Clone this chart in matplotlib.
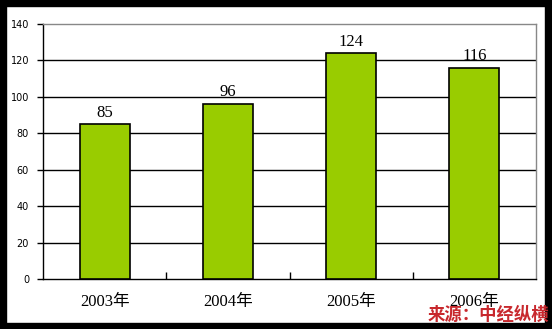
import matplotlib
matplotlib.use("Agg")
import matplotlib.pyplot as plt
from matplotlib.patches import Rectangle

categories = ["2003年", "2004年", "2005年", "2006年"]
values = [85, 96, 124, 116]
yticks = [0, 20, 40, 60, 80, 100, 120, 140]

W, H = 552, 329
fig = plt.figure(figsize=(W / 100, H / 100), dpi=100)
fig.patch.set_facecolor("white")

ax = fig.add_axes([43 / W, 1 - 279 / H, (536 - 43) / W, (279 - 24) / H])
x = list(range(len(categories)))
ax.bar(x, values, width=0.405, color="#99cc00", edgecolor="black", linewidth=1.2, zorder=3)
ax.set_xlim(-0.5, len(categories) - 0.5)
ax.set_ylim(0, 140)
ax.set_yticks(yticks)
ax.set_yticklabels([str(v) for v in yticks], fontsize=7, family="DejaVu Sans")
for v in yticks[1:-1]:
    ax.axhline(v, color="black", linewidth=1.0, zorder=1)
ax.tick_params(axis="y", length=4, width=1, direction="out", pad=6)
ax.set_xticks([i + 0.5 for i in range(len(categories) - 1)])
ax.set_xticklabels([])
ax.tick_params(axis="x", length=5, width=1, direction="in")
for i, c in enumerate(categories):
    ax.text(i, -12.5, c, ha="center", va="center", fontsize=12,
            family=["Liberation Serif", "Noto Sans CJK SC"])
for i, v in enumerate(values):
    ax.text(i, v + 2, str(v), ha="center", va="bottom", fontsize=12,
            family=["Liberation Serif"])
ax.spines["left"].set_color("black")
ax.spines["bottom"].set_color("black")
ax.spines["top"].set_color("#888888")
ax.spines["right"].set_color("#888888")
for s in ax.spines.values():
    s.set_linewidth(1.0)

# black frame
for (x0, y0, w, h) in [(0, 0, 6, H), (0, 0, W, 6), (545, 0, W - 545, H), (0, 323, W, H - 323)]:
    fig.patches.append(Rectangle((x0 / W, 1 - (y0 + h) / H), w / W, h / H,
                                 transform=fig.transFigure, color="black", zorder=0))

fig.text(488 / W, 1 - 315 / H, "来源：中经纵横", ha="center", va="center", fontsize=12.5,
         color="#c8282d", fontweight="bold", style="italic", family=["Noto Sans CJK SC"], zorder=5)

fig.savefig("out.png", dpi=100)
